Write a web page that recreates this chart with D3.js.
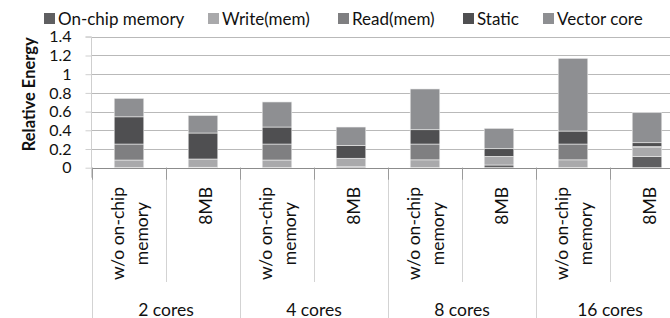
<!DOCTYPE html>
<html>
<head>
<meta charset="utf-8">
<script src="https://cdn.jsdelivr.net/npm/d3@7"></script>
<style>
  body { margin: 0; background: #fff; }
  svg { display: block; font-family: Lato, "Open Sans", sans-serif; }
</style>
</head>
<body>
<div id="chart"></div>
<script>
// data
const groups = ['2 cores', '4 cores', '8 cores', '16 cores'];
const configs = [['w/o on-chip', 'memory'], ['8MB']];
const seriesNames = ['On-chip memory', 'Write(mem)', 'Read(mem)', 'Static', 'Vector core'];
const onChip = [0, 0.005, 0, 0.01, 0, 0.029, 0, 0.118];
const writeMem = [0.082, 0.088, 0.082, 0.087, 0.084, 0.093, 0.084, 0.096];
const readMem = [0.171, 0, 0.171, 0.004, 0.169, 0, 0.169, 0.012];
const staticE = [0.291, 0.278, 0.182, 0.138, 0.153, 0.081, 0.139, 0.041];
const vectorCore = [0.198, 0.187, 0.268, 0.196, 0.436, 0.218, 0.778, 0.321];
const yTicks = [0, 0.2, 0.4, 0.6, 0.8, 1, 1.2, 1.4];

const colors = ['#5f5f61', '#a9a9ab', '#7f7f81', '#4f4f51', '#8e8f92'];

const width = 670, height = 318;
const plotLeft = 92, plotRight = 684, plotBottom = 167.7, plotTop = 36.8;

const cats = [];
groups.forEach((g, gi) => configs.forEach((c, ci) => cats.push({id: gi + '-' + ci, group: g, lines: c})));
const rows = cats.map((c, i) => ({
    id: c.id,
    'On-chip memory': onChip[i], 'Write(mem)': writeMem[i], 'Read(mem)': readMem[i],
    'Static': staticE[i], 'Vector core': vectorCore[i]
}));

const svg = d3.select('#chart').append('svg').attr('width', width).attr('height', height);

const x = d3.scaleBand().domain(cats.map(d => d.id)).range([plotLeft, plotRight]);
const y = d3.scaleLinear().domain([0, 1.4]).range([plotBottom, plotTop]);

// gridlines
svg.append('g').selectAll('line').data(yTicks.filter(t => t > 0)).join('line')
    .attr('x1', plotLeft).attr('x2', width)
    .attr('y1', d => Math.round(y(d)) + 0.5).attr('y2', d => Math.round(y(d)) + 0.5)
    .attr('stroke', '#b9b9b9');

// y axis
const yAxis = svg.append('g').attr('transform', 'translate(' + (plotLeft - 0.5) + ',0)')
    .call(d3.axisLeft(y).tickValues(yTicks).tickFormat(d3.format('~g')).tickSize(6).tickPadding(14));
yAxis.select('.domain').attr('stroke', '#cfcfcf').attr('d', 'M-6,' + plotTop + 'H0V' + (plotBottom + 10));
yAxis.selectAll('.tick line').attr('stroke', '#cfcfcf');
yAxis.selectAll('.tick text').attr('font-size', 16).attr('fill', '#111').attr('font-family', 'Lato');

svg.append('text')
    .attr('transform', 'translate(29,' + ((plotTop + plotBottom) / 2 - 8) + ') rotate(-90)')
    .attr('text-anchor', 'middle').attr('dominant-baseline', 'central')
    .attr('font-size', 16.5).attr('font-weight', 'bold').attr('fill', '#111')
    .text('Relative Energy');

// stacked bars
const stack = d3.stack().keys(seriesNames)(rows);
const barW = x.bandwidth() * 0.4;
svg.append('g').selectAll('g').data(stack).join('g')
    .attr('fill', (d, i) => colors[i])
    .selectAll('rect').data(d => d).join('rect')
    .attr('x', d => x(d.data.id) + (x.bandwidth() - barW) / 2)
    .attr('width', barW)
    .attr('y', d => y(d[1]))
    .attr('height', d => Math.max(0, y(d[0]) - y(d[1])))
    .attr('stroke', '#eeeeee').attr('stroke-width', 0.6);

// baseline
svg.append('line').attr('x1', plotLeft).attr('x2', width)
    .attr('y1', Math.round(plotBottom) + 0.5).attr('y2', Math.round(plotBottom) + 0.5)
    .attr('stroke', '#8c8c8c');

// category separators
const sep = svg.append('g');
cats.forEach((c, i) => {
    const xs = Math.round(x(c.id)) + 0.5;
    const isGroup = i % 2 === 0;
    sep.append('line').attr('x1', xs).attr('x2', xs)
        .attr('y1', plotBottom).attr('y2', isGroup ? height : 282)
        .attr('stroke', '#d3d3d3');
    sep.append('line').attr('x1', xs).attr('x2', xs)
        .attr('y1', plotBottom).attr('y2', plotBottom + 12).attr('stroke', '#9a9a9a');
});
const lastX = Math.round(plotRight) + 0.5;
sep.append('line').attr('x1', lastX).attr('x2', lastX).attr('y1', plotBottom).attr('y2', height).attr('stroke', '#d3d3d3');

// category labels
const labTop = 187;
cats.forEach(c => {
    const cx = x(c.id) + x.bandwidth() / 2;
    const t = svg.append('text').attr('font-size', 17.5).attr('fill', '#111')
        .attr('text-anchor', 'middle');
    c.lines.forEach((ln, li) => {
        t.append('tspan').attr('x', 0).attr('y', (li - (c.lines.length - 1) / 2) * 24)
            .attr('dominant-baseline', 'central').text(ln);
    });
    let maxLen = 0;
    t.selectAll('tspan').each(function() { maxLen = Math.max(maxLen, this.getComputedTextLength()); });
    const off = c.lines.length === 1 ? 2 : 0;
    t.attr('transform', 'translate(' + (cx + off) + ',' + (labTop + maxLen / 2) + ') rotate(-90)');
});

// group labels
groups.forEach((g, gi) => {
    const x0 = x(gi + '-0'), x1 = x(gi + '-1') + x.bandwidth();
    svg.append('text').attr('x', (x0 + x1) / 2).attr('y', 309)
        .attr('text-anchor', 'middle').attr('dominant-baseline', 'central')
        .attr('font-size', 17.5).attr('fill', '#111').text(g);
});

// legend
const legX = [44, 208, 338, 463, 543];
const leg = svg.append('g');
seriesNames.forEach((s, i) => {
    leg.append('rect').attr('x', legX[i]).attr('y', 13).attr('width', 11).attr('height', 11).attr('fill', colors[i]);
    leg.append('text').attr('x', legX[i] + 14).attr('y', 18.5).attr('dominant-baseline', 'central')
        .attr('font-size', 17).attr('fill', '#111').text(s);
});
</script>
</body>
</html>
